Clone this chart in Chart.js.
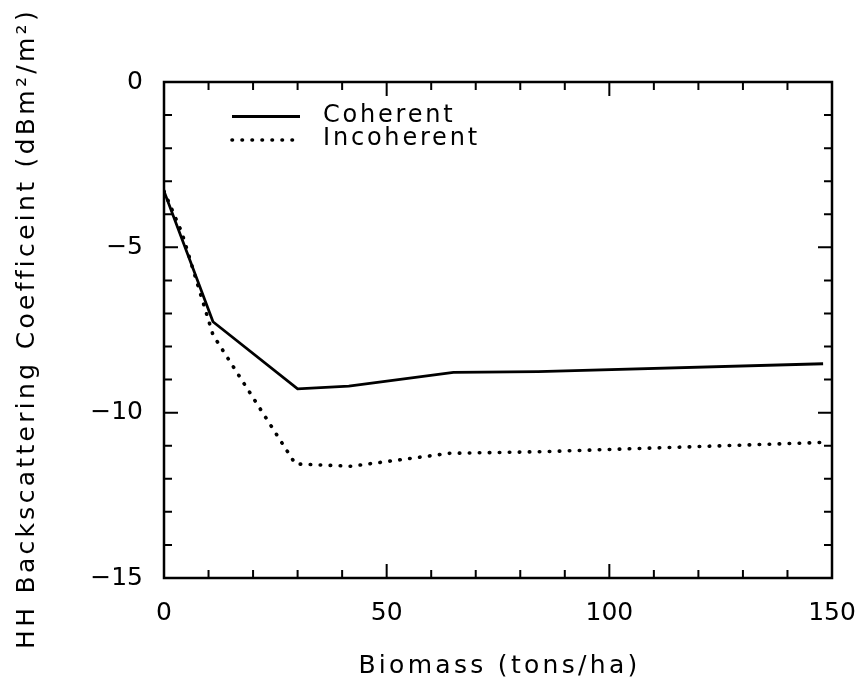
<!DOCTYPE html>
<html>
<head>
<meta charset="utf-8">
<script src="https://cdn.jsdelivr.net/npm/chart.js@4/dist/chart.umd.min.js"></script>
<style>
  html, body { margin: 0; padding: 0; background: #fff; }
  canvas { display: block; }
</style>
</head>
<body>
<canvas id="biomassChart" width="862" height="686"></canvas>
<script>
// values
const coherentBiomass = [0, 11, 30, 41.5, 65, 84, 148];
const coherentHH = [-3.3, -7.25, -9.28, -9.2, -8.78, -8.76, -8.52];

const incoherentBiomass = [0, 4, 11, 29.5, 42, 64, 85, 148];
const incoherentHH = [-3.3, -4.55, -7.65, -11.55, -11.62, -11.23, -11.18, -10.9];

const xTickLabels = [0, 50, 100, 150];
const yTickLabels = [0, -5, -10, -15];
const xMinorStep = 10;
const yMinorStep = 1;

const xTitle = 'Biomass (tons/ha)';
const yTitle = 'HH Backscattering Coefficeint (dBm\u00b2/m\u00b2)';

const toPoints = (xs, ys) => xs.map((v, i) => ({ x: v, y: ys[i] }));
const FONT = '"DejaVu Sans", "Liberation Sans", sans-serif';

// frame + inward ticks on all four sides
const framePlugin = {
  id: 'frame',
  afterDatasetsDraw(chart) {
    const { ctx, chartArea: a, scales: { x, y } } = chart;
    ctx.save();
    ctx.strokeStyle = '#000';
    ctx.lineWidth = 2.5;
    ctx.strokeRect(a.left, a.top, a.right - a.left, a.bottom - a.top);
    ctx.lineWidth = 2;
    ctx.beginPath();
    for (let v = x.min; v <= x.max + 1e-9; v += xMinorStep) {
      const px = x.getPixelForValue(v);
      const len = xTickLabels.includes(v) ? 14 : 8;
      ctx.moveTo(px, a.bottom); ctx.lineTo(px, a.bottom - len);
      ctx.moveTo(px, a.top); ctx.lineTo(px, a.top + len);
    }
    for (let v = y.min; v <= y.max + 1e-9; v += yMinorStep) {
      const py = y.getPixelForValue(v);
      const len = yTickLabels.includes(v) ? 14 : 8;
      ctx.moveTo(a.left, py); ctx.lineTo(a.left + len, py);
      ctx.moveTo(a.right, py); ctx.lineTo(a.right - len, py);
    }
    ctx.stroke();
    ctx.restore();
  }
};

// axis titles and in-plot legend (wide letter spacing like the original)
const textPlugin = {
  id: 'texts',
  afterDraw(chart) {
    const { ctx, chartArea: a } = chart;
    ctx.save();
    ctx.fillStyle = '#000';
    ctx.textAlign = 'center';
    ctx.textBaseline = 'middle';
    ctx.font = '25px ' + FONT;
    ctx.letterSpacing = '3.3px';

    ctx.fillText(xTitle, (a.left + a.right) / 2 + 1.5, 666);

    ctx.save();
    ctx.translate(27.5, (a.top + a.bottom) / 2);
    ctx.rotate(-Math.PI / 2);
    ctx.fillText(yTitle, 1.5, 0);
    ctx.restore();

    // legend
    ctx.font = '24px ' + FONT;
    ctx.letterSpacing = '2.8px';
    ctx.textAlign = 'left';
    chart.data.datasets.forEach((ds, i) => {
      const ly = 116.5 + i * 23.5;
      ctx.save();
      ctx.strokeStyle = ds.borderColor;
      ctx.lineWidth = ds.borderWidth;
      ctx.lineCap = ds.borderCapStyle || 'butt';
      ctx.setLineDash(ds.borderDash || []);
      ctx.beginPath();
      ctx.moveTo(232, ly);
      ctx.lineTo(i === 0 ? 300 : 293, ly);
      ctx.stroke();
      ctx.restore();
      ctx.fillText(ds.label, 323, ly - 1);
    });
    ctx.restore();
  }
};

const minusFmt = v => (v < 0 ? '\u2212' + Math.abs(v) : String(v));

const config = {
  type: 'line',
  data: {
    datasets: [{
      label: 'Coherent',
      data: toPoints(coherentBiomass, coherentHH),
      borderColor: '#000',
      borderWidth: 2.8,
      pointRadius: 0,
      tension: 0
    }, {
      label: 'Incoherent',
      data: toPoints(incoherentBiomass, incoherentHH),
      borderColor: '#000',
      borderWidth: 3.6,
      borderDash: [0.5, 9.5],
      borderCapStyle: 'round',
      pointRadius: 0,
      tension: 0
    }]
  },
  options: {
    responsive: false,
    animation: false,
    layout: { padding: { top: 82, right: 30, left: 0, bottom: 0 } },
    plugins: {
      legend: { display: false },
      tooltip: { enabled: false }
    },
    scales: {
      x: {
        type: 'linear',
        min: 0,
        max: 150,
        afterBuildTicks: s => { s.ticks = xTickLabels.map(v => ({ value: v })); },
        afterFit: s => { s.height = 108; s.paddingLeft = 0; s.paddingRight = 0; },
        grid: { display: false },
        border: { display: false },
        ticks: {
          color: '#000',
          padding: 12,
          maxRotation: 0,
          font: { family: FONT, size: 25 },
          callback: minusFmt
        }
      },
      y: {
        type: 'linear',
        min: -15,
        max: 0,
        afterBuildTicks: s => { s.ticks = yTickLabels.map(v => ({ value: v })); },
        afterFit: s => { s.width = 164; s.paddingTop = 0; s.paddingBottom = 0; },
        grid: { display: false },
        border: { display: false },
        ticks: {
          color: '#000',
          padding: 13,
          font: { family: FONT, size: 25 },
          callback: minusFmt
        }
      }
    }
  },
  plugins: [framePlugin, textPlugin]
};

const biomassChart = new Chart(
  document.getElementById('biomassChart'),
  config
);
</script>
</body>
</html>
